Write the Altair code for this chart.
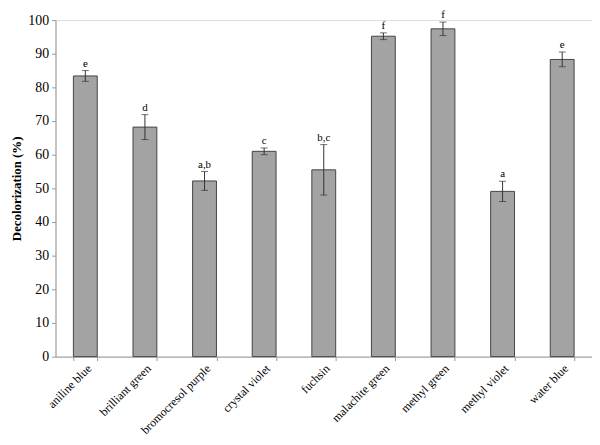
import altair as alt
import pandas as pd

dyes = ["aniline blue", "brilliant green", "bromocresol purple", "crystal violet",
        "fuchsin", "malachite green", "methyl green", "methyl violet", "water blue"]
values = [83.4, 68.2, 52.2, 61.0, 55.5, 95.2, 97.4, 49.1, 88.3]
errors = [1.6, 3.7, 2.8, 1.0, 7.5, 1.0, 2.0, 3.0, 2.2]
letters = ["e", "d", "a,b", "c", "b,c", "f", "f", "a", "e"]

df = pd.DataFrame({"dye": dyes, "value": values, "err": errors, "letter": letters})
df["lo"] = df["value"] - df["err"]
df["hi"] = df["value"] + df["err"]

FONT = "Times New Roman, Liberation Serif, Tinos, DejaVu Serif, serif"

x_axis = alt.Axis(labelAngle=-45, labelAlign="right", labelBaseline="top",
                  labelFont=FONT, labelFontSize=12, labelColor="black",
                  tickBand="extent", tickSize=4, tickColor="#999",
                  domainColor="#999", labelPadding=2, labelOverlap=False,
                  labelLimit=200)
y_axis = alt.Axis(values=list(range(0, 101, 10)), grid=False,
                  labelOverlap=False,
                  labelFont=FONT, labelFontSize=14, labelColor="black",
                  titleFont=FONT, titleFontSize=13, titleFontWeight="bold",
                  titleColor="black", tickSize=4, tickColor="#999",
                  domainColor="#999", labelPadding=3, titlePadding=4)

x_scale = alt.Scale(paddingInner=0.6, paddingOuter=0.3)
y_scale = alt.Scale(domain=[0, 100], nice=False)
TITLE = "Decolorization (%)"


def X():
    return alt.X("dye:N", sort=dyes, title=None, scale=x_scale, axis=x_axis)


def Y(field):
    return alt.Y(field, scale=y_scale, title=TITLE, axis=y_axis)


bars = alt.Chart(df).mark_bar(fill="#a3a3a3", stroke="#444", strokeWidth=1).encode(
    x=X(), y=Y("value:Q"))

rules = alt.Chart(df).mark_rule(color="#333", strokeWidth=1).encode(
    x=X(), y=Y("lo:Q"), y2="hi:Q")

caps_hi = alt.Chart(df).mark_tick(color="#333", size=7, thickness=1, orient="horizontal").encode(
    x=X(), y=Y("hi:Q"))
caps_lo = alt.Chart(df).mark_tick(color="#333", size=7, thickness=1, orient="horizontal").encode(
    x=X(), y=Y("lo:Q"))

labels = alt.Chart(df).mark_text(font=FONT, fontSize=11, color="black", dy=-2,
                                 baseline="bottom").encode(
    x=X(), y=Y("hi:Q"), text="letter:N")

chart = alt.layer(bars, rules, caps_hi, caps_lo, labels).properties(
    width=542, height=340,
    padding={"left": 48, "top": 10, "right": 0, "bottom": 79},
    autosize=alt.AutoSizeParams(type="none"),
).configure_view(stroke=None).configure(background="white")

chart.save("out.html", embed_options={"renderer": "svg", "actions": False})
